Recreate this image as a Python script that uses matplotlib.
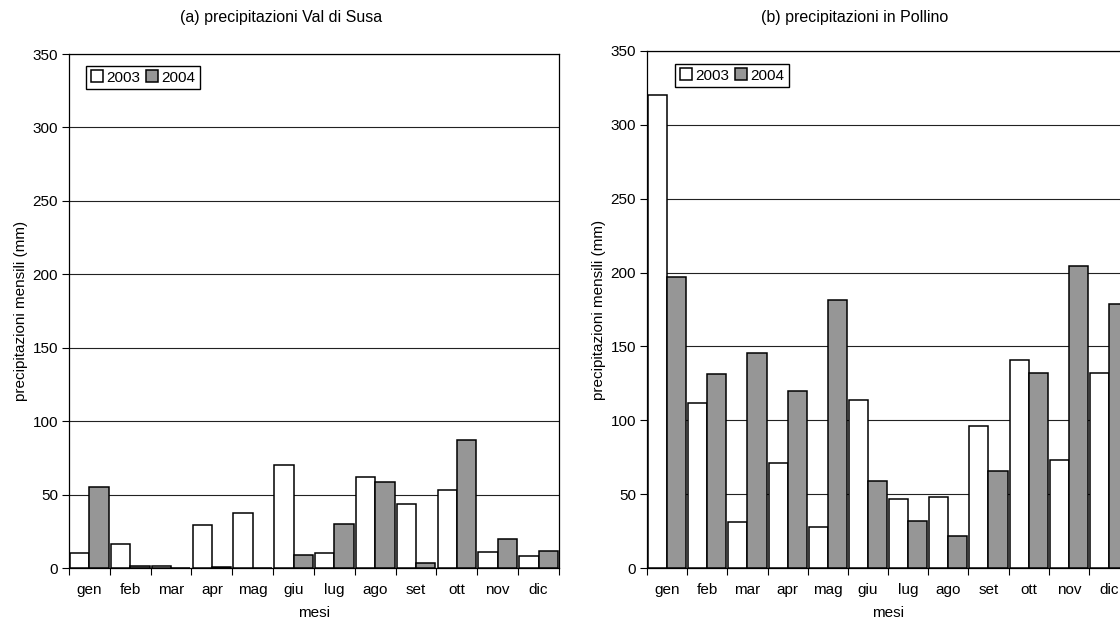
import numpy as np
import matplotlib.pyplot as plt
from matplotlib.ticker import MultipleLocator, FixedLocator

plt.rcParams['font.family'] = ['Liberation Sans', 'DejaVu Sans']

mesi = ['gen', 'feb', 'mar', 'apr', 'mag', 'giu', 'lug', 'ago', 'set', 'ott', 'nov', 'dic']

# precipitazioni mensili (mm) - Val di Susa
susa_2003 = [10.3, 16.4, 1.5, 29.1, 37.5, 70.0, 9.9, 62.2, 43.9, 53.0, 10.8, 8.0]
susa_2004 = [55.0, 1.6, 0.3, 0.7, 0.0, 8.7, 29.8, 58.9, 3.5, 87.3, 20.0, 11.5]

# precipitazioni mensili (mm) - Pollino
pollino_2003 = [320.3, 111.6, 31.0, 70.9, 28.0, 113.8, 47.0, 48.4, 96.4, 141.0, 72.9, 132.0]
pollino_2004 = [196.7, 131.3, 145.8, 119.8, 181.7, 58.7, 31.5, 21.7, 65.4, 132.0, 204.4, 178.7]

fig = plt.figure(figsize=(11.2, 6.21), dpi=100)
ax1 = fig.add_axes([0.0616, 0.0853, 0.4375, 0.8277])
ax2 = fig.add_axes([0.5777, 0.0853, 0.4304, 0.8326])

x = np.arange(len(mesi))
w = 0.475
grigio = '#969696'
fs = 11


def pannello(ax, a, b, leg_x, leg_y):
    ax.bar(x - w / 2, a, w, color='white', edgecolor='black', linewidth=1.1,
           label='2003', zorder=3)
    ax.bar(x + w / 2, b, w, color=grigio, edgecolor='black', linewidth=1.1,
           label='2004', zorder=3)
    ax.set_xlim(-0.5, len(mesi) - 0.5)
    ax.set_ylim(0, 350)
    ax.yaxis.set_major_locator(MultipleLocator(50))
    ax.grid(axis='y', color='#222222', linewidth=0.8, zorder=0)
    ax.set_xticks(x)
    ax.set_xticklabels(mesi, fontsize=fs)
    ax.tick_params(axis='x', which='major', length=0, pad=11)
    ax.xaxis.set_minor_locator(FixedLocator(np.arange(-0.5, len(mesi), 1)))
    ax.tick_params(axis='x', which='minor', length=5, width=0.8)
    ax.tick_params(axis='y', length=5, width=0.8, labelsize=fs, pad=3)
    for s in ax.spines.values():
        s.set_linewidth(0.9)
        s.set_color('black')
    ax.set_xlabel('mesi', fontsize=fs, labelpad=6)
    ax.set_ylabel('precipitazioni mensili (mm)', fontsize=fs, labelpad=3)
    ax.legend(loc='upper left', bbox_to_anchor=(leg_x, leg_y), borderaxespad=0,
              ncol=2, fontsize=fs, fancybox=False, edgecolor='black',
              framealpha=1, handlelength=0.8, handleheight=0.8,
              handletextpad=0.2, columnspacing=0.4, borderpad=0.3)


pannello(ax1, susa_2003, susa_2004, 0.035, 0.977)
pannello(ax2, pollino_2003, pollino_2004, 0.058, 0.975)

fig.text(0.251, 0.972, '(a) precipitazioni Val di Susa', ha='center', va='center', fontsize=fs + 0.5)
fig.text(0.763, 0.972, '(b) precipitazioni in Pollino', ha='center', va='center', fontsize=fs + 0.5)

fig.savefig('out.png', dpi=100)
